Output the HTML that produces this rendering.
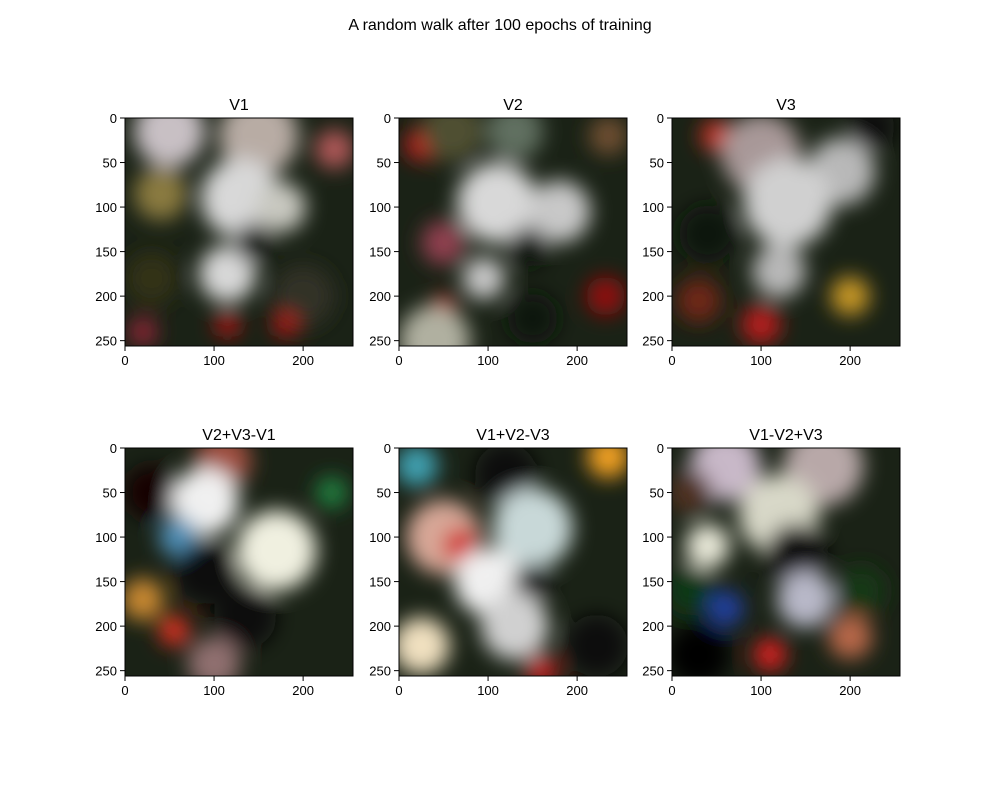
<!DOCTYPE html>
<html><head><meta charset="utf-8">
<style>
body{margin:0;background:#fff;}
svg{display:block;font-family:"Liberation Sans","DejaVu Sans",sans-serif;}
</style></head>
<body>
<svg id="fig" width="1000" height="786" viewBox="0 0 1000 786" xmlns="http://www.w3.org/2000/svg">
<defs><filter id="blur" x="-50%" y="-50%" width="200%" height="200%"><feGaussianBlur stdDeviation="10"/></filter></defs>
<rect width="1000" height="786" fill="#fff"/>
<text x="500" y="30" text-anchor="middle" font-size="16">A random walk after 100 epochs of training</text>
</svg>
<script>
const panelTitles = ["V1","V2","V3","V2+V3-V1","V1+V2-V3","V1-V2+V3"];
const panelNames = ["v1","v2","v3","v2-plus-v3-minus-v1","v1-plus-v2-minus-v3","v1-minus-v2-plus-v3"];
const xTicks = [0,100,200];
const yTicks = [0,50,100,150,200,250];
const imgSize = 256;
const blobsV1 = [[50,15,40,'#c8c0c4'],[150,20,45,'#b8aca4'],[235,35,22,'#b05858'],[40,85,30,'#8a7a40'],[130,90,45,'#d8d8d8'],[175,100,28,'#c8c8c0'],[115,175,32,'#d8d8d8'],[145,140,22,'#0c180c'],[200,200,35,'#303028'],[115,232,14,'#b01818'],[180,232,14,'#b01818'],[20,240,16,'#902838'],[30,180,30,'#303018']];
const blobsV2 = [[25,30,18,'#c01c1c'],[60,15,35,'#505030'],[130,15,32,'#607060'],[235,20,22,'#705030'],[110,95,45,'#d8d8d8'],[180,105,35,'#c8c8c8'],[50,140,25,'#904050'],[145,145,22,'#0c180c'],[95,180,24,'#c8c8c8'],[50,212,14,'#c01c1c'],[232,200,22,'#901010'],[40,250,40,'#b0b0a0'],[150,225,28,'#0c180c']];
const blobsV3 = [[50,20,18,'#c83020'],[100,40,45,'#a89898'],[190,60,38,'#b8b8b8'],[225,10,25,'#101010'],[130,95,50,'#d0d0d0'],[40,130,32,'#0c180c'],[120,172,30,'#b8b8b8'],[200,200,22,'#c89828'],[100,232,22,'#b81c1c'],[30,205,25,'#702818']];
const blobsV4 = [[30,50,30,'#180000'],[110,15,32,'#a05040'],[90,60,38,'#f0f0f0'],[60,100,22,'#5090b8'],[170,115,45,'#f0f0e0'],[90,140,35,'#080808'],[135,190,35,'#080808'],[20,170,24,'#c88830'],[55,205,17,'#e03020'],[232,50,18,'#208040'],[100,242,30,'#907070']];
const blobsV5 = [[20,20,24,'#40a0b0'],[120,30,35,'#0c0c0c'],[235,10,24,'#f0a020'],[50,100,42,'#d8a898'],[70,110,20,'#d02020'],[150,90,45,'#c8d8d8'],[100,150,38,'#f0f0f0'],[150,152,22,'#0c0c0c'],[25,222,32,'#f0e0c0'],[130,200,38,'#d0d0d0'],[222,222,35,'#0c0c0c'],[160,250,18,'#c02020']];
const blobsV6 = [[60,20,40,'#c8b8c8'],[170,20,45,'#b8a8a8'],[20,50,25,'#503020'],[120,75,45,'#d8d8c8'],[40,110,25,'#e8e8d8'],[140,120,35,'#0c0c0c'],[20,160,28,'#0c3818'],[60,180,20,'#2040a0'],[150,170,32,'#b8b8c8'],[30,232,35,'#000000'],[110,232,18,'#e02020'],[200,212,25,'#b86848'],[212,160,28,'#183818']];
const allBlobs = [blobsV1,blobsV2,blobsV3,blobsV4,blobsV5,blobsV6];
const NS="http://www.w3.org/2000/svg";
const svg=document.getElementById('fig');
const X0=[125,399,672], Y0=[118,448], S=228;
function mk(tag,attrs,parent){const e=document.createElementNS(NS,tag);for(const k in attrs)e.setAttribute(k,attrs[k]);parent.appendChild(e);return e;}
for(let i=0;i<6;i++){
  const ox=X0[i%3], oy=Y0[Math.floor(i/3)];
  const sx=v=>ox+v*S/imgSize, sy=v=>oy+v*S/imgSize;
  const g=mk('g',{},svg);
  
  
  const cp=mk('clipPath',{id:'c'+i},g);
  mk('rect',{x:ox,y:oy,width:S,height:S},cp);
  const img=mk('g',{'clip-path':'url(#c'+i+')'},g);
  
  
  mk('rect',{x:ox,y:oy,width:S,height:S,fill:'#1a2216'},img);
  const bg=mk('g',{filter:'url(#blur)'},img);
  allBlobs[i].forEach(b=>{
    const c=mk('circle',{cx:sx(b[0]),cy:sy(b[1]),r:b[2]*S/imgSize,fill:b[3]},bg);
    
    
  });
  mk('rect',{x:ox,y:oy,width:S,height:S,fill:'none',stroke:'#000','stroke-width':1},g);
  const t=mk('text',{x:ox+S/2,y:oy-8,'text-anchor':'middle','font-size':16},g);
  t.textContent=panelTitles[i];
  
  
  xTicks.forEach(v=>{
    const x=sx(v);
    mk('line',{x1:x,x2:x,y1:oy+S,y2:oy+S+5,stroke:'#000'},g);
    const l=mk('text',{x:x,y:oy+S+19,'text-anchor':'middle','font-size':13},g);
    l.textContent=v;
    
    
  });
  yTicks.forEach(v=>{
    const y=sy(v);
    mk('line',{x1:ox-5,x2:ox,y1:y,y2:y,stroke:'#000'},g);
    const l=mk('text',{x:ox-8,y:y+5,'text-anchor':'end','font-size':13},g);
    l.textContent=v;
    
    
  });
}
</script>
</body></html>
